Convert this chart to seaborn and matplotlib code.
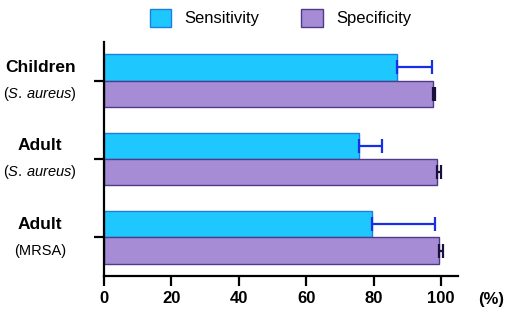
import matplotlib
matplotlib.use("Agg")
import matplotlib.pyplot as plt
import seaborn as sns
import pandas as pd

groups = ["Children", "Adult", "Adult MRSA"]
group_main = ["Children", "Adult", "Adult"]
group_sub = [r"($\mathit{S.\,aureus}$)", r"($\mathit{S.\,aureus}$)", "(MRSA)"]
metrics = ["Sensitivity", "Specificity"]
sensitivity = [87.0, 75.7, 79.5]
sensitivity_err = [10.3, 6.8, 18.7]
specificity = [97.7, 98.8, 99.4]
specificity_err = [0.6, 1.2, 1.2]

sns.set_style("white")
plt.rcParams["font.family"] = ["Liberation Sans", "DejaVu Sans"]
plt.rcParams["mathtext.fontset"] = "custom"
plt.rcParams["mathtext.it"] = "Liberation Sans:italic"
plt.rcParams["mathtext.rm"] = "Liberation Sans"
plt.rcParams["text.color"] = "black"
plt.rcParams["xtick.color"] = "black"
plt.rcParams["ytick.color"] = "black"

df = pd.DataFrame({
    "group": groups * 2,
    "metric": [metrics[0]] * 3 + [metrics[1]] * 3,
    "value": sensitivity + specificity,
})

fill = {"Sensitivity": "#1EC8FF", "Specificity": "#A68BD5"}
edge = {"Sensitivity": "#1A7FE0", "Specificity": "#4E3A86"}
errc = {"Sensitivity": "#1530E8", "Specificity": "#1A1040"}

fig = plt.figure(figsize=(5.1, 3.19), dpi=100)
ax = fig.add_axes([0.204, 0.135, 0.694, 0.733])
sns.barplot(data=df, y="group", x="value", hue="metric", orient="h",
            palette=fill, saturation=1, width=0.67, ax=ax, legend=False, errorbar=None)

errs = {"Sensitivity": sensitivity_err, "Specificity": specificity_err}
vals = {"Sensitivity": sensitivity, "Specificity": specificity}
for cont, m in zip(ax.containers, metrics):
    ys = []
    for p in cont.patches:
        p.set_edgecolor(edge[m])
        p.set_linewidth(1.0)
        ys.append(p.get_y() + p.get_height() / 2)
    ax.errorbar(vals[m], ys, xerr=[[0] * 3, errs[m]], fmt="none",
                ecolor=errc[m], elinewidth=1.6, capsize=5, capthick=1.6)

ax.set_xlim(0, 105)
ax.set_ylim(2.49, -0.49)
ax.set_xticks([0, 20, 40, 60, 80, 100])
ax.set_xticklabels(["0", "20", "40", "60", "80", "100"], fontweight="bold", fontsize=12)
ax.set_yticks([0, 1, 2])
ax.set_yticklabels([])
ax.set_xlabel("")
ax.set_ylabel("")
for s in ["top", "right"]:
    ax.spines[s].set_visible(False)
for s in ["left", "bottom"]:
    ax.spines[s].set_linewidth(1.6)
    ax.spines[s].set_color("black")
ax.tick_params(axis="both", direction="out", length=7, width=1.6, color="black",
               left=True, bottom=True, pad=4)

trans = ax.get_yaxis_transform()
for i in range(3):
    ax.text(-0.18, i - 0.17, group_main[i], transform=trans, ha="center", va="center",
            fontsize=12.5, fontweight="bold")
    ax.text(-0.18, i + 0.17, group_sub[i], transform=trans, ha="center", va="center",
            fontsize=10.5)

ax.text(1.095, -0.1, "(%)", transform=ax.transAxes, ha="center", va="center",
        fontsize=12, fontweight="bold")

handles = [plt.Rectangle((0, 0), 1, 1, facecolor=fill[m], edgecolor=edge[m]) for m in metrics]
fig.legend(handles, metrics, loc="upper center", bbox_to_anchor=(0.55, 1.02), ncol=2,
           frameon=False, fontsize=12, handlelength=1.3, handleheight=1.3,
           columnspacing=2.5, handletextpad=0.8)

fig.savefig("out.png", dpi=100)
